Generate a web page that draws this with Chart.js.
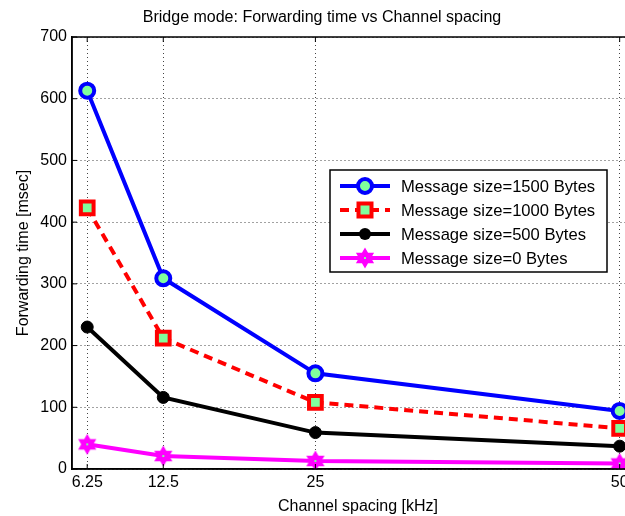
<!DOCTYPE html>
<html>
<head>
<meta charset="utf-8">
<script src="https://cdn.jsdelivr.net/npm/chart.js@4/dist/chart.umd.min.js"></script>
<style>
html,body{margin:0;padding:0;background:#fff;overflow:hidden;width:625px;height:516px;}
#wrap{position:relative;width:700px;height:516px;}
</style>
</head>
<body>
<div id="wrap"><canvas id="c"></canvas></div>
<script>
const channelSpacing = [6.25, 12.5, 25, 50];
const xTickValues = [6.25, 12.5, 25, 50];
const size1500 = [613, 309, 155, 94];
const size1000 = [423, 212, 108, 66];
const size500 = [230, 116, 59, 37];
const size0 = [40, 21, 13, 9];
const seriesLabels = ['Message size=1500 Bytes','Message size=1000 Bytes','Message size=500 Bytes','Message size=0 Bytes'];

const FONT = 'Liberation Sans, Arial, Helvetica, sans-serif';
const GREEN = '#80ff9c';

function hexagram(size, fill) {
  const c = document.createElement('canvas');
  c.width = size; c.height = size;
  const g = c.getContext('2d');
  const cx = size/2, cy = size/2, R = size/2 - 0.5, r = R*0.577;
  g.beginPath();
  for (let i = 0; i < 12; i++) {
    const a = -Math.PI/2 + i*Math.PI/6;
    const rr = i % 2 === 0 ? R : r;
    const px = cx + rr*Math.cos(a), py = cy + rr*Math.sin(a);
    if (i === 0) g.moveTo(px, py); else g.lineTo(px, py);
  }
  g.closePath();
  g.fillStyle = fill; g.fill();
  g.fillStyle = GREEN; g.fillRect(cx-1, cy-1, 2, 2);
  return c;
}
const starImg = hexagram(22, '#ff00ff');

function pts(arr) { return channelSpacing.map((x, i) => ({x: x, y: arr[i]})); }

const legendPlugin = {
  id: 'matlabLegend',
  afterDraw(chart) {
    const ctx = chart.ctx;
    const a = chart.chartArea;
    ctx.save();
    ctx.strokeStyle = '#000'; ctx.lineWidth = 1.5;
    ctx.strokeRect(a.left, a.top, a.right - a.left, a.bottom - a.top);
    const xs = chart.scales.x, ys = chart.scales.y;
    ctx.lineWidth = 1;
    xs.ticks.forEach(t => {
      const px = xs.getPixelForValue(t.value);
      ctx.beginPath(); ctx.moveTo(px, a.bottom); ctx.lineTo(px, a.bottom - 5);
      ctx.moveTo(px, a.top); ctx.lineTo(px, a.top + 5); ctx.stroke();
    });
    ys.ticks.forEach(t => {
      const py = ys.getPixelForValue(t.value);
      ctx.beginPath(); ctx.moveTo(a.left, py); ctx.lineTo(a.left + 5, py); ctx.stroke();
    });
    const bx = 330, by = 170, bw = 277, bh = 102;
    ctx.fillStyle = '#fff'; ctx.fillRect(bx, by, bw, bh);
    ctx.strokeStyle = '#000'; ctx.lineWidth = 1.5; ctx.strokeRect(bx, by, bw, bh);
    const rows = [186, 210, 234, 258];
    chart.data.datasets.forEach((ds, i) => {
      const y = rows[i];
      ctx.strokeStyle = ds.borderColor; ctx.lineWidth = 4;
      ctx.setLineDash(ds.borderDash || []);
      ctx.beginPath(); ctx.moveTo(340, y); ctx.lineTo(390, y); ctx.stroke();
      ctx.setLineDash([]);
      const mx = 365;
      if (i === 0) {
        ctx.beginPath(); ctx.arc(mx, y, 7, 0, Math.PI*2);
        ctx.fillStyle = GREEN; ctx.fill(); ctx.lineWidth = 4; ctx.strokeStyle = '#0000ff'; ctx.stroke();
      } else if (i === 1) {
        ctx.fillStyle = GREEN; ctx.fillRect(mx-6.5, y-6.5, 13, 13);
        ctx.lineWidth = 4; ctx.strokeStyle = '#ff0000'; ctx.strokeRect(mx-6.5, y-6.5, 13, 13);
      } else if (i === 2) {
        ctx.beginPath(); ctx.arc(mx, y, 6, 0, Math.PI*2); ctx.fillStyle = '#000'; ctx.fill();
      } else {
        ctx.drawImage(starImg, mx - 11, y - 11);
      }
      ctx.fillStyle = '#000'; ctx.font = '16.6px ' + FONT;
      ctx.textBaseline = 'middle'; ctx.textAlign = 'left';
      ctx.fillText(ds.label, 401, y + 1);
    });
    ctx.restore();
  }
};

new Chart(document.getElementById('c'), {
  type: 'line',
  data: {
    datasets: [
      {label: seriesLabels[0], data: pts(size1500), borderColor: '#0000ff', borderWidth: 4,
       pointStyle: 'circle', pointRadius: 7, pointBorderWidth: 4, pointBackgroundColor: GREEN, pointBorderColor: '#0000ff'},
      {label: seriesLabels[1], data: pts(size1000), borderColor: '#ff0000', borderWidth: 4, borderDash: [9, 6],
       pointStyle: 'rect', pointRadius: 9, pointBorderWidth: 4, pointBackgroundColor: GREEN, pointBorderColor: '#ff0000'},
      {label: seriesLabels[2], data: pts(size500), borderColor: '#000000', borderWidth: 4,
       pointStyle: 'circle', pointRadius: 6, pointBorderWidth: 1, pointBackgroundColor: '#000', pointBorderColor: '#000'},
      {label: seriesLabels[3], data: pts(size0), borderColor: '#ff00ff', borderWidth: 4,
       pointStyle: starImg, pointRadius: 11, pointBackgroundColor: '#ff00ff', pointBorderColor: '#ff00ff'}
    ]
  },
  options: {
    responsive: true,
    maintainAspectRatio: false,
    animation: false,
    layout: {padding: {left: 0, right: 56, top: 0, bottom: 0}},
    plugins: {
      legend: {display: false},
      tooltip: {enabled: false},
      title: {display: true, text: 'Bridge mode: Forwarding time vs Channel spacing',
        color: '#000', font: {family: FONT, size: 16, weight: 'normal'}, padding: {top: 8, bottom: 9.8}}
    },
    scales: {
      x: {
        type: 'linear', min: 5, max: 52,
        afterBuildTicks: s => { s.ticks = xTickValues.map(v => ({value: v})); },
        afterFit: s => { s.height = 47; },
        ticks: {color: '#000', font: {family: FONT, size: 16}, padding: 4, autoSkip: false,
          callback: v => String(v)},
        grid: {color: '#444', lineWidth: 1, drawTicks: false},
        border: {display: true, color: '#000', width: 1.5, dash: [1, 3]},
        title: {display: true, text: 'Channel spacing [kHz]', color: '#000',
          font: {family: FONT, size: 16}, padding: {top: 2, bottom: 0}}
      },
      y: {
        min: 0, max: 700,
        afterFit: s => { s.width = 72; },
        ticks: {stepSize: 100, color: '#000', font: {family: FONT, size: 16}, padding: 5},
        grid: {color: '#444', lineWidth: 1, drawTicks: false},
        border: {display: true, color: '#000', width: 1.5, dash: [1, 3]},
        title: {display: true, text: 'Forwarding time [msec]', color: '#000',
          font: {family: FONT, size: 16}, padding: {top: 14, bottom: 0}}
      }
    }
  },
  plugins: [legendPlugin]
});
</script>
</body>
</html>
